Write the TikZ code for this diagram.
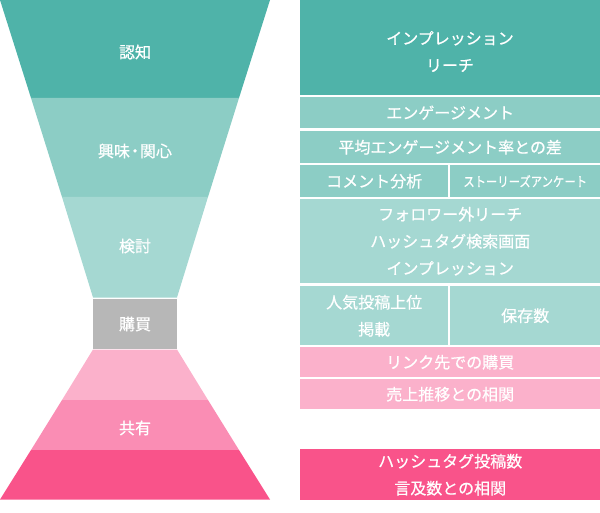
\documentclass[tikz,border=0pt]{standalone}
\usepackage{fontspec}
\setmainfont{Noto Sans CJK JP}[FakeBold=0.6]
\definecolor{cA}{HTML}{4FB3A9}
\definecolor{cB}{HTML}{8CCDC5}
\definecolor{cC}{HTML}{A5D8D2}
\definecolor{cG}{HTML}{B7B7B7}
\definecolor{pA}{HTML}{FBB1CB}
\definecolor{pB}{HTML}{FA8DB4}
\definecolor{pC}{HTML}{F9538A}
\begin{document}
\begin{tikzpicture}[x=1pt,y=-1pt,
  lbl/.style={text=white,font=\fontsize{16}{26}\selectfont,align=center,inner sep=0pt},
  cell/.style={rectangle,anchor=north west,inner sep=0pt,text=white,
    font=\fontsize{16}{27}\selectfont,align=center}]
\useasboundingbox (0,0) rectangle (600,513);
% funnel
\fill[cA] (0,0) -- (270,0) -- (239,98) -- (31,98) -- cycle;
\fill[cB] (31,98) -- (239,98) -- (208,197) -- (62,197) -- cycle;
\fill[cC] (62,197) -- (208,197) -- (177,297.5) -- (93,297.5) -- cycle;
\fill[cG] (93,299) rectangle (177,348.5);
\fill[pA] (93,349.5) -- (177,349.5) -- (208,400) -- (62,400) -- cycle;
\fill[pB] (62,400) -- (208,400) -- (239,450) -- (31,450) -- cycle;
\fill[pC] (31,450) -- (239,450) -- (270,499.5) -- (0,499.5) -- cycle;
\node[lbl] (ninchi) at (135,52) {認知};
\node[lbl] (kyomi) at (135,151) {興味\kern-3pt・\kern-3pt関心};
\node[lbl] (kento) at (135,246) {検討};
\node[lbl] (kobai) at (135,324) {購買};
\node[lbl] (kyoyu) at (135,428) {共有};
% right boxes
\node[cell,fill=cA,minimum width=300pt,minimum height=95pt] (imp) at (300,0) {};
\node[lbl,font=\fontsize{16}{27}\selectfont] (impt) at (450,51.5) {インプレッション\\リーチ};
\node[cell,fill=cB,minimum width=300pt,minimum height=31pt] (eng) at (300,97) {エンゲージメント};
\node[cell,fill=cB,minimum width=300pt,minimum height=32pt] (avg) at (300,131) {平均エンゲージメント率との差};
\node[cell,fill=cB,minimum width=148pt,minimum height=32pt] (com) at (300,165) {コメント分析};
\node[cell,fill=cB,minimum width=150pt,minimum height=32pt] (sto) at (450,165) {\scalebox{0.84}[1]{\fontsize{13.5}{16}\selectfont ストーリーズアンケート}};
\node[cell,fill=cC,minimum width=300pt,minimum height=84pt] (fol) at (300,199) {フォロワー外リーチ\\ハッシュタグ検索画面\\インプレッション};
\node[cell,fill=cC,minimum width=148pt,minimum height=59pt] (pop) at (300,286) {人気投稿上位\\掲載};
\node[cell,fill=cC,minimum width=150pt,minimum height=59pt] (sav) at (450,286) {保存数};
\node[cell,fill=pA,minimum width=300pt,minimum height=30pt] (lnk) at (300,347) {リンク先での購買};
\node[cell,fill=pA,minimum width=300pt,minimum height=30pt] (ure) at (300,379) {売上推移との相関};
\node[cell,fill=pC,minimum width=300pt,minimum height=51pt] (has) at (300,449) {ハッシュタグ投稿数\\言及数との相関};
\end{tikzpicture}
\end{document}
